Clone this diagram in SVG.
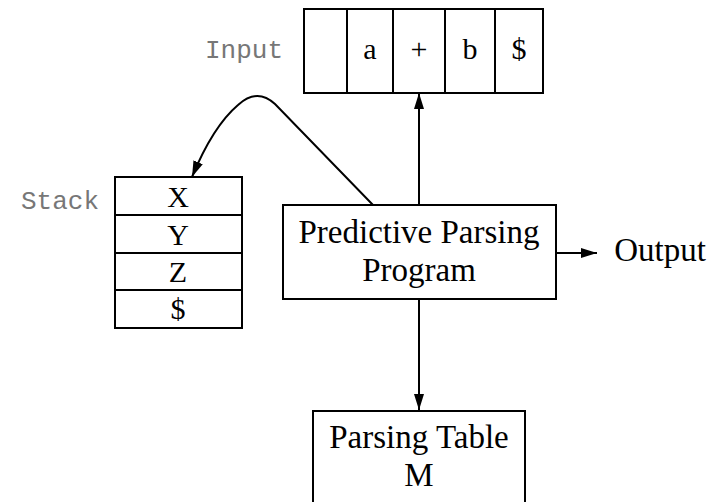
<svg xmlns="http://www.w3.org/2000/svg" width="717" height="502" viewBox="0 0 717 502">
<defs>
<marker id="ah" viewBox="0 0 16 10" refX="16" refY="5" markerWidth="16" markerHeight="10" markerUnits="userSpaceOnUse" orient="auto">
<path d="M0,0 L16,5 L0,10 Z" fill="#000"/>
</marker>
</defs>
<style>
.box{fill:#fff;stroke:#000;stroke-width:2}
.ln{fill:none;stroke:#000;stroke-width:2}
.t{font-family:"Liberation Serif","Times New Roman",serif;font-size:30px;fill:#000;text-anchor:middle}
.big{font-size:33px}
.lab{font-family:"Liberation Mono","Courier New",monospace;font-size:26px;fill:#777}
.edge{fill:none;stroke:#000;stroke-width:2;marker-end:url(#ah)}
</style>
<rect width="717" height="502" fill="#fff"/>
<g id="input">
<text class="lab" x="205" y="58">Input</text>
<rect class="box" x="304" y="9" width="239" height="84"/>
<path class="ln" d="M347,9V93M393,9V93M445,9V93M495,9V93"/>
<text class="t" x="370" y="59">a</text>
<text class="t" x="419" y="59">+</text>
<text class="t" x="470" y="59">b</text>
<text class="t" x="519" y="59">$</text>
</g>
<g id="stack">
<text class="lab" x="21" y="209">Stack</text>
<rect class="box" x="115" y="177" width="127" height="151"/>
<path class="ln" d="M115,215H242M115,253H242M115,290H242"/>
<text class="t" x="178" y="207">X</text>
<text class="t" x="178" y="245">Y</text>
<text class="t" x="178" y="282">Z</text>
<text class="t" x="178" y="319">$</text>
</g>
<g id="program">
<rect class="box" x="283" y="205" width="273" height="94"/>
<text class="t big" x="419" y="243">Predictive Parsing</text>
<text class="t big" x="419" y="281">Program</text>
</g>
<g id="table">
<rect class="box" x="313" y="411" width="212" height="110"/>
<text class="t big" x="419" y="448">Parsing Table</text>
<text class="t big" x="419" y="486">M</text>
</g>
<g id="output">
<text class="t big" x="660" y="261">Output</text>
</g>
<g id="connectors">
<path class="edge" d="M419,205V93"/>
<path class="edge" d="M419,299V410"/>
<path class="edge" d="M556,253H597"/>
<path class="edge" d="M373,205 L275,104 C262,92 250,94 238,105 C218,122 204,148 192,177"/>
</g>
</svg>
